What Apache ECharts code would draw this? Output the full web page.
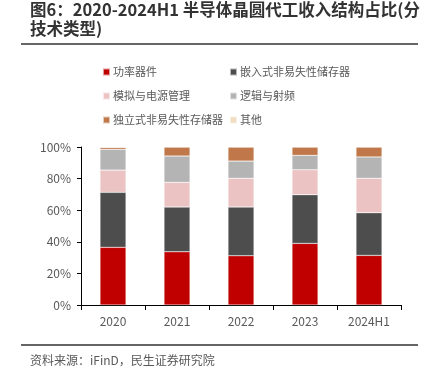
<!DOCTYPE html>
<html><head><meta charset="utf-8">
<script src="https://cdn.jsdelivr.net/npm/echarts@6/dist/echarts.min.js"></script>
<style>html,body{margin:0;padding:0;background:#fff}#c{width:426px;height:373px}</style>
</head><body><div id="c"></div>
<script>
const categories = ['2020', '2021', '2022', '2023', '2024H1'];
const seriesNames = ['功率器件', '嵌入式非易失性储存器', '模拟与电源管理', '逻辑与射频', '独立式非易失性存储器', '其他'];
const power = [36.5, 33.7, 31.2, 39.0, 31.4];
const embeddedNVM = [34.8, 28.3, 30.8, 30.8, 27.0];
const analogPower = [14.1, 15.6, 18.2, 15.8, 21.8];
const logicRF = [13.1, 16.7, 10.9, 9.1, 13.5];
const standaloneNVM = [1.2, 5.7, 8.9, 5.3, 6.3];
const others = [0.3, 0, 0, 0, 0];
const yTicks = [0, 20, 40, 60, 80, 100];
const titleText = '图6：2020-2024H1 半导体晶圆代工收入结构占比(分\n技术类型)';
const sourceText = '资料来源：iFinD，民生证券研究院';

const colors = ['#C00000', '#4D4D4D', '#EBC3C3', '#B4B4B4', '#C0784A', '#F0DCBE'];
const dataArr = [power, embeddedNVM, analogPower, logicRF, standaloneNVM, others];
const font = '"Noto Sans CJK SC", "Noto Sans", sans-serif';

const chart = echarts.init(document.getElementById('c'), null, {renderer: 'canvas'});
chart.setOption({
  animation: false,
  textStyle: {fontFamily: font},
  title: {
    text: titleText, left: 30, top: 0, padding: 0,
    textStyle: {fontSize: 16.5, fontWeight: 'bold', color: '#333', lineHeight: 19, fontFamily: font}
  },
  graphic: [
    {type: 'line', shape: {x1: 21, y1: 44, x2: 418, y2: 44}, style: {stroke: '#666', lineWidth: 2}},
    {type: 'line', shape: {x1: 21, y1: 345, x2: 418, y2: 345}, style: {stroke: '#666', lineWidth: 2}},
    {type: 'text', left: 30, top: 354, style: {text: sourceText, fontSize: 12, fill: '#595959', fontFamily: font}}
  ],
  legend: [
    {orient: 'vertical', left: 97, top: 60, itemWidth: 7, itemHeight: 7, itemGap: 10,
     icon: 'rect', data: [seriesNames[0], seriesNames[2], seriesNames[4]],
     textStyle: {fontSize: 11, color: '#595959', fontFamily: font, padding: [0, 0, 0, -2], lineHeight: 14}},
    {orient: 'vertical', left: 224, top: 60, itemWidth: 7, itemHeight: 7, itemGap: 10,
     icon: 'rect', data: [seriesNames[1], seriesNames[3], seriesNames[5]],
     textStyle: {fontSize: 11, color: '#595959', fontFamily: font, padding: [0, 0, 0, -2], lineHeight: 14}}
  ],
  grid: {left: 81, right: 25, top: 147, bottom: 68, containLabel: false},
  xAxis: {
    type: 'category', data: categories, boundaryGap: true,
    axisLine: {lineStyle: {color: '#000', width: 1}},
    axisTick: {show: true, length: 5, lineStyle: {color: '#000'}},
    axisLabel: {fontSize: 12, color: '#595959', margin: 10, fontFamily: font}
  },
  yAxis: {
    type: 'value', min: yTicks[0], max: yTicks[yTicks.length - 1], interval: 20,
    axisLine: {show: true, lineStyle: {color: '#000', width: 1}},
    axisTick: {show: true, length: 4, lineStyle: {color: '#000'}},
    splitLine: {show: false},
    axisLabel: {fontSize: 12, color: '#595959', margin: 10, formatter: '{value}%', fontFamily: font}
  },
  series: seriesNames.map((n, i) => ({
    name: n, type: 'bar', stack: 'total', barWidth: 26,
    itemStyle: {color: colors[i], borderColor: 'rgba(255,255,255,0.6)', borderWidth: 0.5},
    data: dataArr[i]
  }))
});
</script></body></html>
